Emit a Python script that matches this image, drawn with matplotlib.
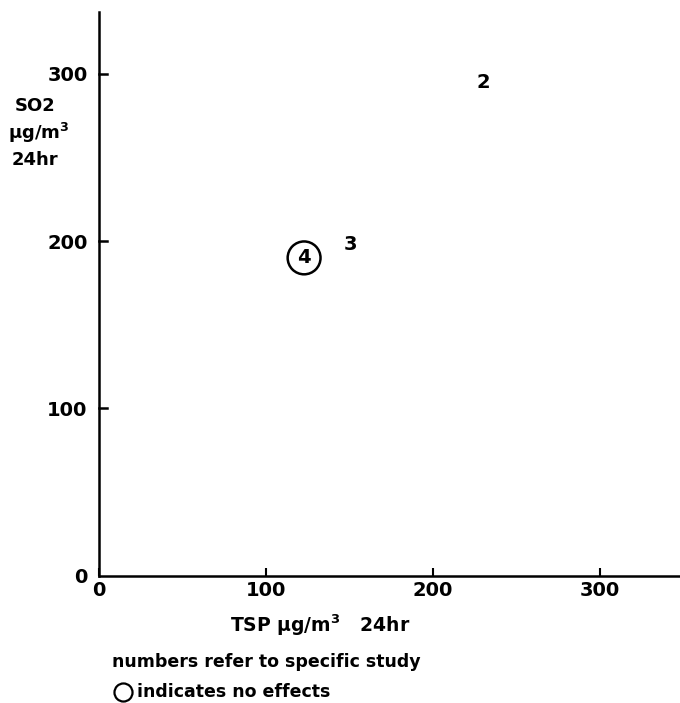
import matplotlib.pyplot as plt

# study points: TSP vs SO2 (ug/m3, 24 hr)
study = ['2', '3', '4']
tsp = [230, 151, 123]
so2 = [295, 198, 190]
no_effect = [False, False, True]

xticks = [0, 100, 200, 300]
yticks = [0, 100, 200, 300]

plt.rcParams['font.family'] = ['DejaVu Sans']
plt.rcParams['font.weight'] = 'bold'

fig = plt.figure(figsize=(6.8, 7.03), dpi=100)
ax = fig.add_axes([0.145, 0.181, 0.855, 0.802])

ax.set_xlim(0, 348)
ax.set_ylim(0, 337)
ax.spines['top'].set_visible(False)
ax.spines['right'].set_visible(False)
ax.spines['left'].set_linewidth(1.8)
ax.spines['bottom'].set_linewidth(1.8)
ax.set_xticks(xticks)
ax.set_yticks(yticks)
ax.tick_params(axis='x', direction='in', length=6, width=1.5, labelsize=14, pad=4)
ax.tick_params(axis='y', direction='out', length=0, labelsize=14, pad=8)
# y ticks drawn as short dashes to the right of the spine
for v in yticks[1:]:
    ax.plot([0, 5], [v, v], color='black', lw=1.8, clip_on=False)

for s, x, y, ne in zip(study, tsp, so2, no_effect):
    ax.text(x, y, s, fontsize=14, fontweight='bold', ha='center', va='center')
    if ne:
        ax.scatter([x], [y], s=560, facecolors='none', edgecolors='black', linewidths=1.8)

fig.text(0.022, 0.849, 'SO2', fontsize=13, fontweight='bold', ha='left', va='center')
fig.text(0.012, 0.811, r'$\mathbf{\mu}$g/m$^\mathbf{3}$', fontsize=13, fontweight='bold', ha='left', va='center')
fig.text(0.017, 0.772, '24hr', fontsize=13, fontweight='bold', ha='left', va='center')

fig.text(0.471, 0.111, r'TSP $\mathbf{\mu}$g/m$^\mathbf{3}$   24hr', fontsize=13.5, fontweight='bold', ha='center', va='center')
fig.text(0.165, 0.058, 'numbers refer to specific study', fontsize=12.5, fontweight='bold', ha='left', va='center')
fig.lines.append(plt.Line2D([0.181], [0.0156], marker='o', markersize=13, markerfacecolor='none',
                            markeredgecolor='black', markeredgewidth=1.6, transform=fig.transFigure))
fig.text(0.201, 0.0156, 'indicates no effects', fontsize=12.5, fontweight='bold', ha='left', va='center')

fig.savefig('out.png', dpi=100)
